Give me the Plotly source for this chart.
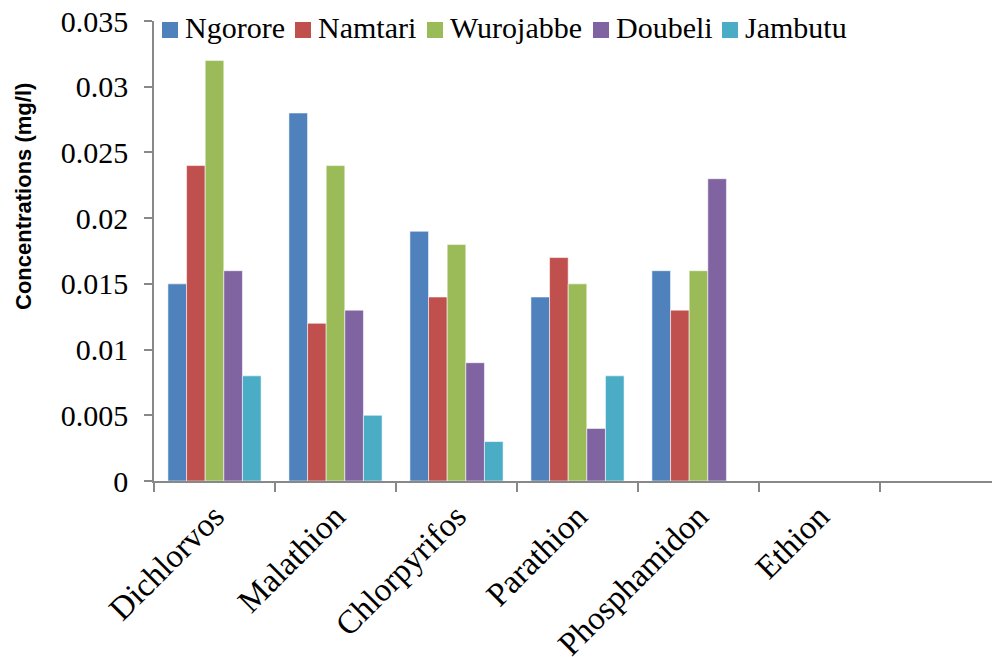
import plotly.graph_objects as go

categories = ["Dichlorvos", "Malathion", "Chlorpyrifos", "Parathion", "Phosphamidon", "Ethion", " "]
ngorore = [0.015, 0.028, 0.019, 0.014, 0.016, None, None]
namtari = [0.024, 0.012, 0.014, 0.017, 0.013, None, None]
wurojabbe = [0.032, 0.024, 0.018, 0.015, 0.016, None, None]
doubeli = [0.016, 0.013, 0.009, 0.004, 0.023, None, None]
jambutu = [0.008, 0.005, 0.003, 0.008, None, None, None]
y_ticks = [0, 0.005, 0.01, 0.015, 0.02, 0.025, 0.03, 0.035]
y_tick_text = ["0", "0.005", "0.01", "0.015", "0.02", "0.025", "0.03", "0.035"]
y_title = "Concentrations (mg/l)"

series = [
    ("Ngorore", ngorore, "#4F81BD"),
    ("Namtari", namtari, "#C0504D"),
    ("Wurojabbe", wurojabbe, "#9BBB59"),
    ("Doubeli", doubeli, "#8064A2"),
    ("Jambutu", jambutu, "#4BACC6"),
]

L, T, B = 154, 21, 176
W, H = 992, 657
pw = W - L
ph = H - T - B


def px_x(p):
    return (p - L) / pw


def px_y(p):
    return (H - B - p) / ph


fig = go.Figure()
for name, vals, col in series:
    fig.add_trace(go.Bar(
        x=categories, y=vals, name=name,
        marker=dict(color=col, line=dict(color="rgba(255,255,255,0.55)", width=1)),
    ))

# legend drawn as swatches + labels (layout positions in pixels)
legend_swatch_x = [162, 295, 427, 593, 722]
annotations = []
shapes = []
for (name, vals, col), sx in zip(series, legend_swatch_x):
    shapes.append(dict(
        type="rect", xref="paper", yref="paper",
        x0=px_x(sx), x1=px_x(sx + 16), y0=px_y(38), y1=px_y(22),
        fillcolor=col, line=dict(width=0), layer="above",
    ))
    annotations.append(dict(
        text=name, xref="paper", yref="paper",
        x=px_x(sx + 21), y=px_y(27), xanchor="left", yanchor="middle",
        showarrow=False, font=dict(family="Liberation Serif", size=30, color="black"),
    ))

annotations.append(dict(
    text="<b>" + y_title + "</b>", textangle=-90,
    xref="paper", yref="paper",
    x=px_x(23), y=px_y(197), xanchor="center", yanchor="middle",
    showarrow=False, font=dict(family="Liberation Sans", size=22, color="black"),
))

fig.update_layout(
    width=W, height=H,
    paper_bgcolor="white", plot_bgcolor="white",
    margin=dict(l=L, r=0, t=T, b=B, autoexpand=False),
    barmode="group", bargap=0.23, bargroupgap=0,
    showlegend=False,
    font=dict(family="Liberation Serif", color="black"),
    xaxis=dict(
        type="category", categoryorder="array", categoryarray=categories,
        range=[-0.5, -0.5 + pw / 121.0], automargin=False,
        showline=True, linecolor="#888888", linewidth=1.5,
        ticks="outside", tickson="boundaries", ticklen=9, tickcolor="#888888", tickwidth=1.5,
        tickangle=-45, tickfont=dict(family="Liberation Serif", size=33, color="black"),
        ticklabelstandoff=1,
        showgrid=False, zeroline=False,
    ),
    yaxis=dict(
        range=[0, 0.035], tickvals=y_ticks, ticktext=y_tick_text, automargin=False,
        showline=True, linecolor="#888888", linewidth=1.5,
        ticks="outside", ticklen=8, tickcolor="#888888", tickwidth=1.5,
        tickfont=dict(family="Liberation Serif", size=30, color="black"),
        ticklabelstandoff=10,
        showgrid=False, zeroline=False,
    ),
    annotations=annotations,
    shapes=shapes,
)

fig.write_html("out.html", config={"displayModeBar": False},
               post_script="document.body.style.margin='0';")
